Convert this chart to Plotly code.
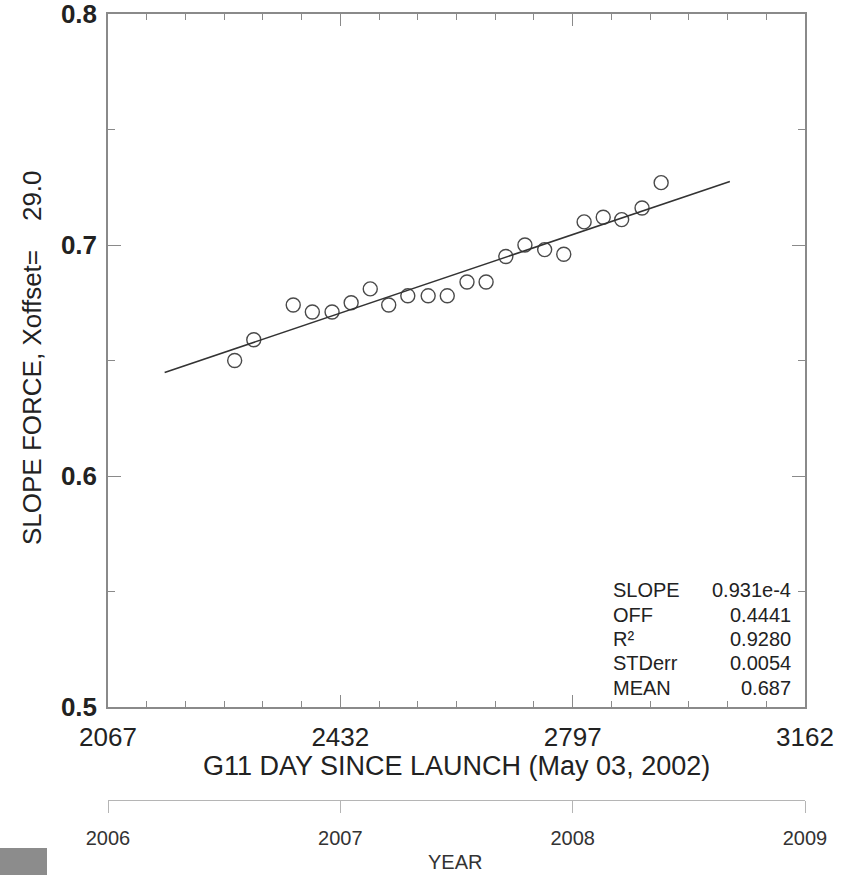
import plotly.graph_objects as go

# ---- data ----
day = [2266, 2296, 2358, 2388, 2419, 2449, 2479, 2508, 2538, 2570, 2600,
       2631, 2661, 2692, 2722, 2753, 2783, 2815, 2845, 2874, 2906, 2936]
slope_force = [0.650, 0.659, 0.674, 0.671, 0.671, 0.675, 0.681, 0.674, 0.678,
               0.678, 0.678, 0.684, 0.684, 0.695, 0.700, 0.698, 0.696, 0.710,
               0.712, 0.711, 0.716, 0.727]
fit_slope = 0.931e-4
fit_off = 0.4441
fit_day_range = [2156, 3044]

x_ticks = [2067, 2432, 2797, 3162]
y_ticks = [0.5, 0.6, 0.7, 0.8]
y_ticktext = ["0.5", "0.6", "0.7", "0.8"]
years = [2006, 2007, 2008, 2009]

stat_names = ["SLOPE", "OFF", "R²", "STDerr", "MEAN"]
stat_values = ["0.931e-4", "0.4441", "0.9280", "0.0054", "0.687"]

FONT = "Liberation Sans, Arial, Helvetica, sans-serif"
AXC = "#8a8a8a"
TXT = "#222222"

W, H = 850, 875
ML, MR, MT, MB = 108, 45, 14, 63
PW, PH = W - ML - MR, H - MT - MB


def px_x(px):
    return (px - ML) / PW


def px_y(py):
    return (H - MB - py) / PH


fig = go.Figure()

fig.add_trace(go.Scatter(
    x=day, y=slope_force, mode="markers",
    marker=dict(symbol="circle-open", size=14, color="#4a4a4a",
                line=dict(width=1.4, color="#4a4a4a")),
    showlegend=False, xaxis="x", yaxis="y"))

fit_y = [fit_off + fit_slope * d for d in fit_day_range]
fig.add_trace(go.Scatter(
    x=fit_day_range, y=fit_y, mode="lines",
    line=dict(color="#333333", width=1.6),
    showlegend=False, xaxis="x", yaxis="y"))

# invisible trace to activate the year axis
fig.add_trace(go.Scatter(
    x=[years[0], years[-1]], y=[0, 0], mode="markers",
    marker=dict(opacity=0), showlegend=False, hoverinfo="skip",
    xaxis="x2", yaxis="y2"))

main_bottom = px_y(707)

fig.update_layout(
    width=W, height=H,
    margin=dict(l=ML, r=MR, t=MT, b=MB, autoexpand=False),
    paper_bgcolor="white", plot_bgcolor="white",
    font=dict(family=FONT, color=TXT),
    xaxis=dict(
        domain=[0, 1], anchor="y", range=[x_ticks[0], x_ticks[-1]],
        tickmode="array", tickvals=x_ticks, ticktext=[str(v) for v in x_ticks],
        ticks="inside", ticklen=12, tickwidth=1.2, tickcolor=AXC,
        showline=True, linecolor=AXC, linewidth=1.5, mirror="ticks",
        showgrid=False, zeroline=False,
        tickfont=dict(size=26, color=TXT, family=FONT),
        ticklabelstandoff=6, ticklabeloverflow="allow",
        minor=dict(tick0=x_ticks[0], dtick=365 / 6, ticks="inside",
                   ticklen=6, tickwidth=1, tickcolor=AXC, showgrid=False),
        automargin=False,
    ),
    yaxis=dict(
        domain=[main_bottom, 1], anchor="x", range=[y_ticks[0], y_ticks[-1]],
        tickmode="array", tickvals=y_ticks, ticktext=y_ticktext,
        ticks="inside", ticklen=13, tickwidth=1.2, tickcolor=AXC,
        showline=True, linecolor=AXC, linewidth=1.5, mirror="ticks",
        showgrid=False, zeroline=False,
        tickfont=dict(size=26, color=TXT, family=FONT, weight="bold"),
        ticklabelstandoff=4, ticklabeloverflow="allow",
        minor=dict(tick0=0.5, dtick=0.05, ticks="inside",
                   ticklen=7, tickwidth=1, tickcolor=AXC, showgrid=False),
        automargin=False,
    ),
    xaxis2=dict(
        domain=[0, 1], anchor="y2", range=[years[0], years[-1]],
        tickmode="array", tickvals=years, ticktext=[str(v) for v in years],
        ticks="outside", ticklen=12, tickwidth=1, tickcolor="#b5b5b5",
        showline=True, linecolor="#b5b5b5", linewidth=1.2,
        showgrid=False, zeroline=False,
        tickfont=dict(size=20, color="#333333", family=FONT),
        ticklabelstandoff=8, ticklabeloverflow="allow",
        automargin=False,
    ),
    yaxis2=dict(domain=[px_y(800), px_y(795)], anchor="x2", visible=False,
                range=[0, 1], fixedrange=True),
)

annotations = [
    dict(text="G11 DAY SINCE LAUNCH (May 03, 2002)", xref="paper", yref="paper",
         x=px_x(456), y=px_y(766), xanchor="center", yanchor="middle",
         showarrow=False, font=dict(size=27, color=TXT, family=FONT)),
    dict(text="SLOPE FORCE, Xoffset=    29.0", xref="paper", yref="paper",
         x=px_x(32), y=px_y(358), xanchor="center", yanchor="middle",
         textangle=-90, showarrow=False,
         font=dict(size=26, color=TXT, family=FONT)),
    dict(text="YEAR", xref="paper", yref="paper",
         x=px_x(455), y=px_y(862), xanchor="center", yanchor="middle",
         showarrow=False, font=dict(size=20, color="#333333", family=FONT)),
]
row_y = [590, 615, 639, 663, 688]
for name, val, ry in zip(stat_names, stat_values, row_y):
    annotations.append(dict(text=name, xref="paper", yref="paper",
                            x=px_x(611), y=px_y(ry), xanchor="left",
                            yanchor="middle", showarrow=False,
                            font=dict(size=20, color=TXT, family=FONT)))
    annotations.append(dict(text=val, xref="paper", yref="paper",
                            x=px_x(793), y=px_y(ry), xanchor="right",
                            yanchor="middle", showarrow=False,
                            font=dict(size=20, color=TXT, family=FONT)))
fig.update_layout(annotations=annotations)

fig.add_shape(type="rect", xref="paper", yref="paper",
              x0=px_x(0), x1=px_x(47), y0=px_y(875), y1=px_y(848),
              fillcolor="#8c8c8c", line=dict(width=0), layer="above")

fig.write_html("out.html")
